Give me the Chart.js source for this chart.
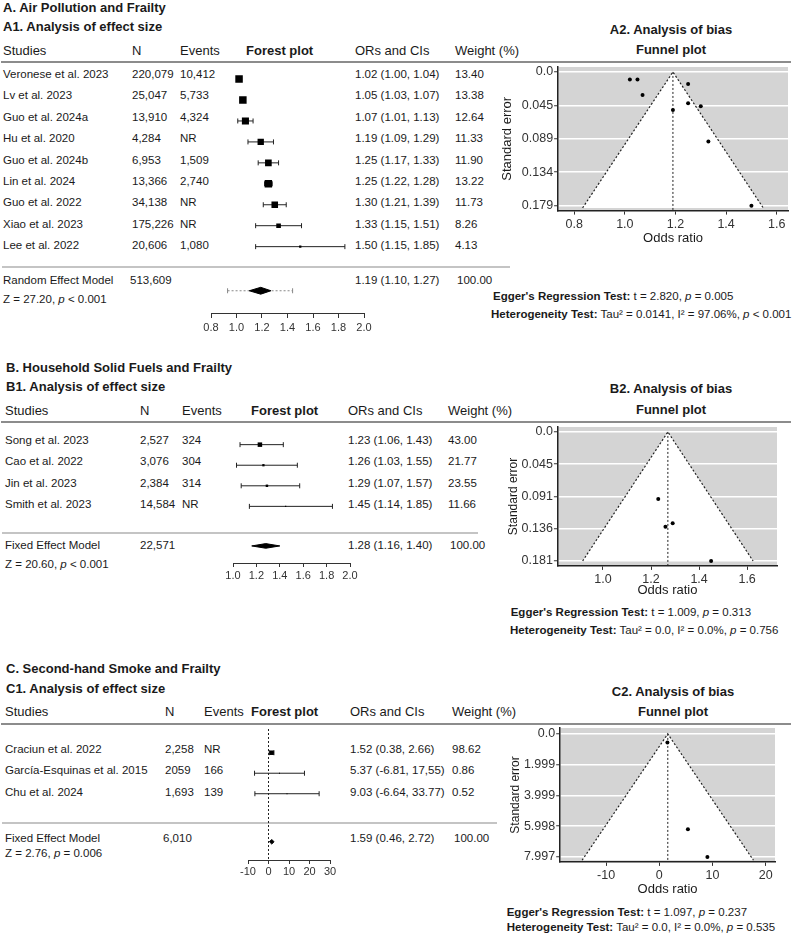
<!DOCTYPE html>
<html>
<head>
<meta charset="utf-8">
<script src="https://cdn.jsdelivr.net/npm/chart.js@4.4.1/dist/chart.umd.min.js"></script>
<style>
  body { margin: 0; background: #fff; }
  #page { position: relative; width: 792px; height: 939px; overflow: hidden;
          font-family: "Liberation Sans", Arial, sans-serif; color: #1a1a1a; }
  .t { position: absolute; white-space: nowrap; }
  .b { font-weight: bold; }
  .rule { position: absolute; height: 2px; }
  canvas { position: absolute; }
</style>
</head>
<body>
<div id="page"></div>
<script>
// ---- A. Air pollution ----
const studiesA = ["Veronese et al. 2023", "Lv et al. 2023", "Guo et al. 2024a", "Hu et al. 2020",
  "Guo et al. 2024b", "Lin et al. 2024", "Guo et al. 2022", "Xiao et al. 2023", "Lee et al. 2022"];
const nA = ["220,079", "25,047", "13,910", "4,284", "6,953", "13,366", "34,138", "175,226", "20,606"];
const eventsA = ["10,412", "5,733", "4,324", "NR", "1,509", "2,740", "NR", "NR", "1,080"];
const orA = [1.02, 1.05, 1.07, 1.19, 1.25, 1.25, 1.30, 1.33, 1.50];
const loA = [1.00, 1.03, 1.01, 1.09, 1.17, 1.22, 1.21, 1.15, 1.15];
const hiA = [1.04, 1.07, 1.13, 1.29, 1.33, 1.28, 1.39, 1.51, 1.85];
const weightA = [13.40, 13.38, 12.64, 11.33, 11.90, 13.22, 11.73, 8.26, 4.13];
const seA = [0.010, 0.010, 0.031, 0.051, 0.042, 0.016, 0.046, 0.093, 0.179];
const pooledA = [1.19, 1.10, 1.27];
const predictionA = [0.93, 1.44];
const forestTicksA = [0.8, 1.0, 1.2, 1.4, 1.6, 1.8, 2.0];
const orTicksA = [0.8, 1.0, 1.2, 1.4, 1.6];
const seTicksA = [0, 0.04475, 0.0895, 0.13425, 0.179];
const seLabelsA = ["0.0", "0.045", "0.089", "0.134", "0.179"];

// ---- B. Household solid fuels ----
const studiesB = ["Song et al. 2023", "Cao et al. 2022", "Jin et al. 2023", "Smith et al. 2023"];
const nB = ["2,527", "3,076", "2,384", "14,584"];
const eventsB = ["324", "304", "314", "NR"];
const orB = [1.23, 1.26, 1.29, 1.45];
const loB = [1.06, 1.03, 1.07, 1.14];
const hiB = [1.43, 1.55, 1.57, 1.85];
const weightB = [43.00, 21.77, 23.55, 11.66];
const seB = [0.094, 0.133, 0.128, 0.181];
const pooledB = [1.28, 1.16, 1.40];
const forestTicksB = [1.0, 1.2, 1.4, 1.6, 1.8, 2.0];
const orTicksB = [1.0, 1.2, 1.4, 1.6];
const seTicksB = [0, 0.04525, 0.0905, 0.13575, 0.181];
const seLabelsB = ["0.0", "0.045", "0.091", "0.136", "0.181"];

// ---- C. Second-hand smoke ----
const studiesC = ["Craciun et al. 2022", "García-Esquinas et al. 2015", "Chu et al. 2024"];
const nC = ["2,258", "2059", "1,693"];
const eventsC = ["NR", "166", "139"];
const orC = [1.52, 5.37, 9.03];
const loC = [0.38, -6.81, -6.64];
const hiC = [2.66, 17.55, 24.70];
const ciTextC = ["1.52 (0.38, 2.66)", "5.37 (-6.81, 17,55)", "9.03 (-6.64, 33.77)"];
const weightC = [98.62, 0.86, 0.52];
const seC = [0.56, 6.20, 8.00];
const pooledC = [1.59, 0.46, 2.72];
const forestTicksC = [-10, 0, 10, 20, 30];
const orTicksC = [-10, 0, 10, 20];
const seTicksC = [0, 1.99925, 3.9985, 5.99775, 7.997];
const seLabelsC = ["0.0", "1.999", "3.999", "5.998", "7.997"];

const FONT = "'Liberation Sans', Arial, sans-serif";
Chart.defaults.font.family = FONT;
const page = document.getElementById("page");

function txt(x, y, html, size, cls, align) {
  const el = document.createElement("div");
  const lh = Math.round(size * 1.22);
  el.className = "t " + (cls || "");
  el.style.fontSize = size + "px";
  el.style.lineHeight = lh + "px";
  el.style.top = (y - lh / 2) + "px";
  if (align === "center") {
    el.style.left = (x - 200) + "px";
    el.style.width = "400px";
    el.style.textAlign = "center";
  } else {
    el.style.left = x + "px";
  }
  el.innerHTML = html;
  page.appendChild(el);
}

function rule(x1, x2, y, color) {
  const el = document.createElement("div");
  el.className = "rule";
  el.style.left = x1 + "px";
  el.style.width = (x2 - x1) + "px";
  el.style.top = (y - 1) + "px";
  el.style.background = color;
  page.appendChild(el);
}

function makeCanvas(left, top, w, h) {
  const c = document.createElement("canvas");
  c.width = Math.round(w);
  c.height = Math.round(h);
  c.style.left = left + "px";
  c.style.top = top + "px";
  page.appendChild(c);
  return c;
}

const ciText = (o, l, h) => o.toFixed(2) + " (" + l.toFixed(2) + ", " + h.toFixed(2) + ")";

// grey ggplot-like panel
const panelBg = {
  id: "panelBg",
  beforeDraw(chart, args, opts) {
    if (!opts.color) return;
    const a = chart.chartArea;
    chart.ctx.save();
    chart.ctx.fillStyle = opts.color;
    chart.ctx.fillRect(a.left, a.top, a.right - a.left, a.bottom - a.top);
    chart.ctx.restore();
  }
};
Chart.register(panelBg);

// datasets are pushed back-to-front; order makes the last pushed one drawn on top
function layered(sets) {
  return sets.map((d, i) => Object.assign(d, { order: sets.length - i }));
}

function drawForest(p) {
  const yMin = (p.lineY - p.rowTop) / p.rowStep;
  const yMax = (p.axisY - p.rowTop) / p.rowStep;
  const sumRow = (p.diamondY - p.rowTop) / p.rowStep;
  const dh = p.diamondHalf / p.rowStep;
  const axisH = 22;
  const left = p.xLpx - 22, right = p.xRpx + 22;
  const cv = makeCanvas(left, p.lineY, right - left, p.axisY - p.lineY + axisH);
  const maxW = Math.max(...p.w);
  const sets = [];
  if (p.nullLine) {
    sets.push({ data: [{ x: 0, y: yMin }, { x: 0, y: yMax }], showLine: true, borderColor: "#222",
      borderWidth: 1, borderDash: [2, 2], pointRadius: 0 });
  }
  p.or.forEach((v, i) => {
    sets.push({ data: [{ x: p.lo[i], y: i }, { x: p.hi[i], y: i }], showLine: true,
      borderColor: "#222", borderWidth: 1, pointStyle: "line", rotation: 90,
      pointRadius: 2.5, pointBorderWidth: 1, pointBorderColor: "#222" });
  });
  if (p.prediction) {
    sets.push({ data: [{ x: p.prediction[0], y: sumRow }, { x: p.prediction[1], y: sumRow }], showLine: true,
      borderColor: "#888", borderWidth: 1, borderDash: [2, 2], pointStyle: "line", rotation: 90,
      pointRadius: 2.5, pointBorderWidth: 1, pointBorderColor: "#888" });
  }
  sets.push({ data: p.or.map((v, i) => ({ x: v, y: i })), pointStyle: "rect",
    pointRadius: p.w.map(w => Math.max(0.7, p.maxSide * w / maxW / 1.414)),
    backgroundColor: "#000", borderWidth: 0, pointBorderWidth: 0 });
  const s = p.sum;
  sets.push({ data: [{ x: s[1], y: sumRow }, { x: s[0], y: sumRow - dh }, { x: s[2], y: sumRow },
      { x: s[0], y: sumRow + dh }, { x: s[1], y: sumRow }],
    showLine: true, fill: "shape", backgroundColor: "#000", borderColor: "#000", borderWidth: 1, pointRadius: 0 });

  new Chart(cv, {
    type: "scatter",
    data: { datasets: layered(sets) },
    options: {
      responsive: false, animation: false,
      layout: { padding: { left: p.xLpx - left, right: right - p.xRpx, top: 0, bottom: 0 } },
      plugins: { legend: { display: false }, tooltip: { enabled: false } },
      scales: {
        x: {
          type: "linear", min: p.ticks[0], max: p.ticks[p.ticks.length - 1],
          afterBuildTicks: sc => { sc.ticks = p.ticks.map(v => ({ value: v })); },
          afterFit: sc => { sc.height = axisH; sc.paddingLeft = 0; sc.paddingRight = 0; },
          ticks: { callback: p.fmt, font: { size: 11 }, color: "#333", padding: p.tickPad,
            maxRotation: 0, autoSkip: false },
          grid: { drawOnChartArea: false, drawTicks: true, tickLength: p.tickLen, tickColor: "#333", tickWidth: 1 },
          border: { display: true, color: "#333", width: 1 }
        },
        y: { type: "linear", display: false, reverse: true, min: yMin, max: yMax }
      }
    }
  });
}

function drawFunnel(p) {
  const xAxisH = p.xTitleY - p.area.b + 7.8;
  const left = p.yTitleX - p.yTitleSize * 1.2 / 2;
  const top = p.area.t - 2;
  const cv = makeCanvas(left, top, p.area.r + 2 - left, p.area.b - top + xAxisH);
  const lim = [p.center - 1.96 * p.seEnd, p.center + 1.96 * p.seEnd];
  const yMax = p.yRange[1];
  const sets = [
    { data: [{ x: lim[0], y: p.seEnd }, { x: p.center, y: 0 }, { x: lim[1], y: p.seEnd }],
      showLine: true, fill: "shape", backgroundColor: "#fff", borderColor: "#222",
      borderWidth: 1.2, borderDash: [2, 2], pointRadius: 0 },
    { data: [{ x: p.center, y: 0 }, { x: p.center, y: yMax }], showLine: true,
      borderColor: "#222", borderWidth: 1, borderDash: [2, 2], pointRadius: 0 },
    { data: p.or.map((v, i) => ({ x: v, y: p.se[i] })), pointRadius: 2,
      backgroundColor: "#000", borderWidth: 0, pointBorderWidth: 0 }
  ];
  new Chart(cv, {
    type: "scatter",
    data: { datasets: layered(sets) },
    options: {
      responsive: false, animation: false,
      layout: { padding: { left: 0, right: 2, top: 2, bottom: 0 } },
      plugins: { legend: { display: false }, tooltip: { enabled: false }, panelBg: { color: "#d4d4d4" } },
      scales: {
        x: {
          type: "linear", min: p.xRange[0], max: p.xRange[1],
          afterBuildTicks: sc => { sc.ticks = p.xTicks.map(v => ({ value: v })); },
          afterFit: sc => { sc.height = xAxisH; sc.paddingLeft = 0; sc.paddingRight = 0; },
          ticks: { callback: p.fmt, font: { size: 12.5 }, color: "#333", padding: 2, maxRotation: 0, autoSkip: false },
          grid: { drawOnChartArea: false, drawTicks: true, tickLength: 4, tickColor: "#333" },
          border: { display: true, color: "#222", width: 1.5 },
          title: { display: true, text: "Odds ratio", font: { size: 13 }, color: "#1a1a1a", padding: 0 }
        },
        y: {
          type: "linear", reverse: true, min: p.yRange[0], max: p.yRange[1],
          afterBuildTicks: sc => { sc.ticks = p.seTicks.map(v => ({ value: v })); },
          afterFit: sc => { sc.width = p.area.l - left; sc.paddingTop = 0; sc.paddingBottom = 0; },
          ticks: { callback: (v, i) => p.seLabels[i], font: { size: 12.5 }, color: "#333", padding: 1, autoSkip: false },
          grid: { color: "#fff", lineWidth: 1.5, drawTicks: true, tickLength: 4, tickColor: "#333", tickWidth: 1 },
          border: { display: true, color: "#222", width: 1.5 },
          title: { display: true, text: "Standard error", font: { size: p.yTitleSize }, color: "#1a1a1a", padding: 0 }
        }
      }
    }
  });
}

function table(p) {
  txt(p.x0, p.titleY, p.title, 13, "b");
  txt(p.x0, p.subY, p.sub, 13, "b");
  const h = p.cols;
  txt(h[0], p.headY, "Studies", 13);
  txt(h[1], p.headY, "N", 13);
  txt(h[2], p.headY, "Events", 13);
  txt(h[3], p.headY, "Forest plot", 13, "b");
  txt(h[4], p.headY, "ORs and CIs", 13);
  txt(h[5], p.headY, "Weight (%)", 13);
  rule(1, 791, p.lineY, "#8c8c8c");
  p.studies.forEach((s, i) => {
    const y = p.rowTop + i * p.rowStep;
    txt(h[0], y, s, 11.5);
    txt(h[1], y, p.n[i], 11.5);
    txt(h[2], y, p.events[i], 11.5);
    txt(h[4], y, p.ci[i], 11.5);
    txt(h[5], y, p.w[i].toFixed(2), 11.5);
  });
  rule(2, p.sepEnd, p.sepY, "#c4c4c4");
  txt(h[0], p.sumY, p.model, 11.5);
  txt(p.sumNx, p.sumY, p.sumN, 11.5);
  txt(h[4], p.sumY, ciText(p.sum[0], p.sum[1], p.sum[2]), 11.5);
  txt(h[5] + 2, p.sumY, "100.00", 11.5);
  txt(h[0], p.zY, p.z, 11.5);
  txt(p.fx, p.ft1, p.fTitle, 13, "b", "center");
  txt(p.fx, p.ft2, "Funnel plot", 13, "b", "center");
  txt(p.eggX, p.eggY, "<b>Egger's Regression Test:</b> " + p.egger, 11.5);
  txt(p.hetX, p.hetY, "<b>Heterogeneity Test:</b> " + p.het, 11.5);
}

const fmt1 = v => v.toFixed(1);
const fmt0 = v => String(v);

// Panel A
table({ x0: 3, titleY: 8, title: "A. Air Pollution and Frailty", subY: 27, sub: "A1. Analysis of effect size",
  headY: 51, cols: [3, 132, 180, 246, 355, 455], lineY: 62, rowTop: 74, rowStep: 21.375,
  studies: studiesA, n: nA, events: eventsA, ci: orA.map((v, i) => ciText(v, loA[i], hiA[i])), w: weightA,
  sepY: 267, sepEnd: 510, sumY: 280, model: "Random Effect Model", sumNx: 130, sumN: "513,609", sum: pooledA,
  zY: 299, z: "Z = 27.20, <i>p</i> &lt; 0.001",
  fx: 671, ft1: 30, ft2: 50, fTitle: "A2. Analysis of bias",
  eggX: 493, eggY: 296, egger: "t = 2.820, <i>p</i> = 0.005",
  hetX: 491, hetY: 314, het: "Tau² = 0.0141, I² = 97.06%, <i>p</i> &lt; 0.001" });

drawForest({ xLpx: 210.7, xRpx: 363.3, lineY: 62, axisY: 312.7, rowTop: 74, rowStep: 21.375,
  diamondY: 290, diamondHalf: 3.5, or: orA, lo: loA, hi: hiA, w: weightA, maxSide: 7.5,
  sum: pooledA, prediction: predictionA, ticks: forestTicksA, fmt: fmt1, tickPad: 3, tickLen: 5 });

drawFunnel({ area: { l: 558.3, t: 65, r: 790, b: 210.7 }, xRange: [0.7365, 1.6445], yRange: [-0.0066, 0.1856],
  or: orA, se: seA, center: 1.19, seEnd: 0.182, xTicks: orTicksA, fmt: fmt1,
  seTicks: seTicksA, seLabels: seLabelsA, xTitleY: 238.3, yTitleX: 508, yTitleSize: 13 });

// Panel B
table({ x0: 6, titleY: 368, title: "B. Household Solid Fuels and Frailty", subY: 387, sub: "B1. Analysis of effect size",
  headY: 411, cols: [5, 140, 182, 251, 348, 448], lineY: 421.7, rowTop: 440, rowStep: 21.33,
  studies: studiesB, n: nB, events: eventsB, ci: orB.map((v, i) => ciText(v, loB[i], hiB[i])), w: weightB,
  sepY: 532.7, sepEnd: 478, sumY: 545, model: "Fixed Effect Model", sumNx: 140, sumN: "22,571", sum: pooledB,
  zY: 564, z: "Z = 20.60, <i>p</i> &lt; 0.001",
  fx: 671, ft1: 389.3, ft2: 410, fTitle: "B2. Analysis of bias",
  eggX: 510.7, eggY: 611.7, egger: "t = 1.009, <i>p</i> = 0.313",
  hetX: 510, hetY: 630, het: "Tau² = 0.0, I² = 0.0%, <i>p</i> = 0.756" });

drawForest({ xLpx: 233.3, xRpx: 350.7, lineY: 421.7, axisY: 562.7, rowTop: 440, rowStep: 21.33,
  diamondY: 545, diamondHalf: 2.4, or: orB, lo: loB, hi: hiB, w: weightB, maxSide: 4.5,
  sum: pooledB, ticks: forestTicksB, fmt: fmt1, tickPad: 2, tickLen: 4 });

drawFunnel({ area: { l: 557.7, t: 425, r: 779.3, b: 565.7 }, xRange: [0.8123, 1.7243], yRange: [-0.0069, 0.1879],
  or: orB, se: seB, center: 1.27, seEnd: 0.181, xTicks: orTicksB, fmt: fmt1,
  seTicks: seTicksB, seLabels: seLabelsB, xTitleY: 590, yTitleX: 513, yTitleSize: 12 });

// Panel C
table({ x0: 6, titleY: 669, title: "C. Second-hand Smoke and Frailty", subY: 689, sub: "C1. Analysis of effect size",
  headY: 711.7, cols: [5, 165, 204, 251, 350, 452], lineY: 724.3, rowTop: 749, rowStep: 21.35,
  studies: studiesC, n: nC, events: eventsC, ci: ciTextC, w: weightC,
  sepY: 823.3, sepEnd: 497, sumY: 838.3, model: "Fixed Effect Model", sumNx: 163, sumN: "6,010", sum: pooledC,
  zY: 853.3, z: "Z = 2.76, <i>p</i> = 0.006",
  fx: 673, ft1: 691.7, ft2: 711.7, fTitle: "C2. Analysis of bias",
  eggX: 506.7, eggY: 911.7, egger: "t = 1.097, <i>p</i> = 0.237",
  hetX: 506.7, hetY: 926.7, het: "Tau² = 0.0, I² = 0.0%, <i>p</i> = 0.535" });

drawForest({ xLpx: 248.3, xRpx: 330, lineY: 724.3, axisY: 860.7, rowTop: 749, rowStep: 21.35,
  diamondY: 841.7, diamondHalf: 2.4, or: orC, lo: loC, hi: hiC, w: weightC, maxSide: 4.5,
  sum: pooledC, nullLine: true, ticks: forestTicksC, fmt: fmt0, tickPad: 1, tickLen: 4 });

drawFunnel({ area: { l: 560, t: 725.7, r: 776.7, b: 861.7 }, xRange: [-18.62, 21.73], yRange: [-0.384, 8.317],
  or: orC, se: seC, center: 1.59, seEnd: 8.21, xTicks: orTicksC, fmt: fmt0,
  seTicks: seTicksC, seLabels: seLabelsC, xTitleY: 889, yTitleX: 515, yTitleSize: 12 });
</script>
</body>
</html>
